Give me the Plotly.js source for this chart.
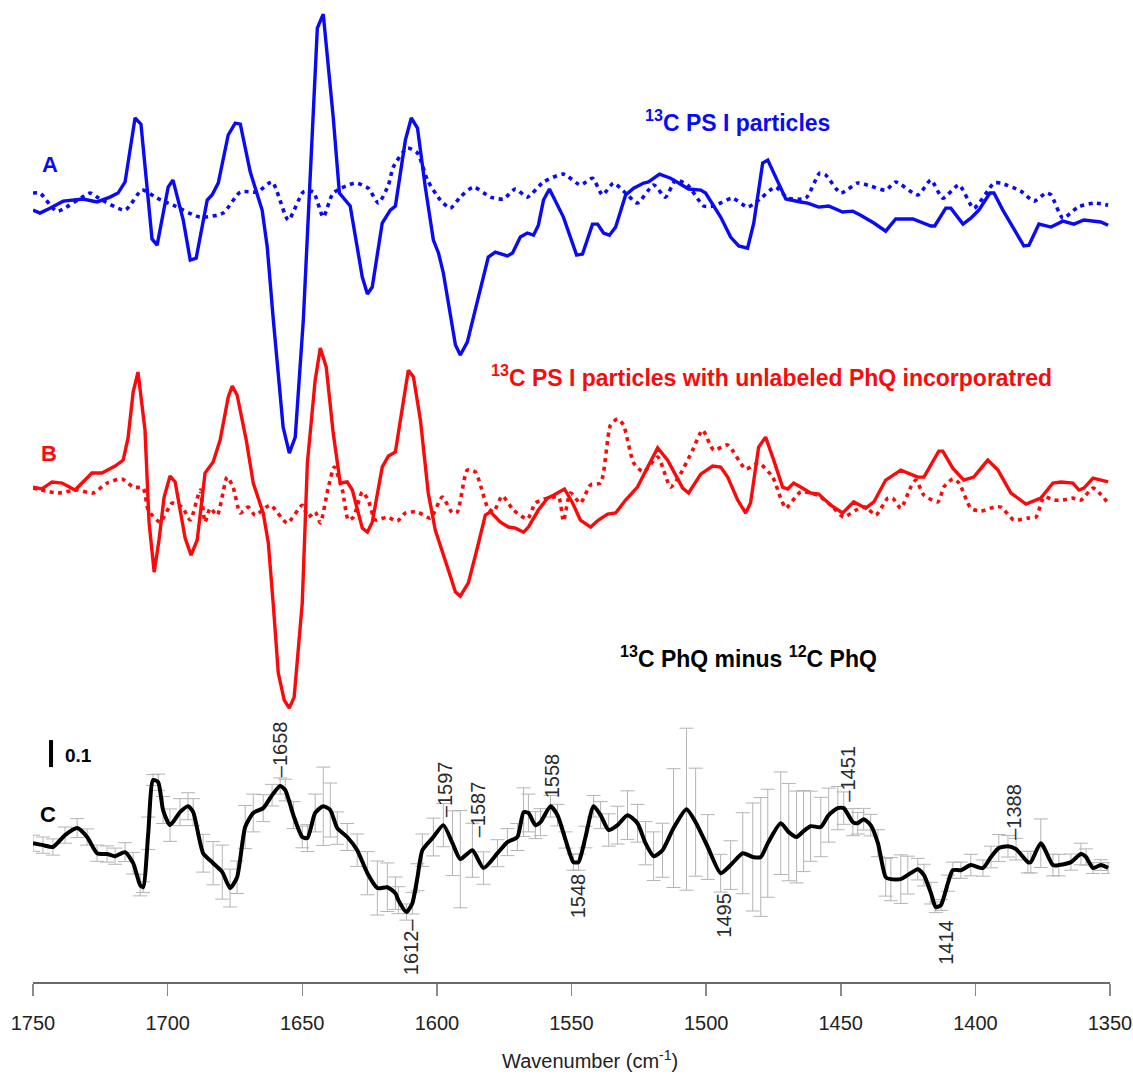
<!DOCTYPE html>
<html><head><meta charset="utf-8">
<script src="https://cdn.plot.ly/plotly-3.0.1.min.js"></script>
<style>body{margin:0;background:#fff}#plot{width:1133px;height:1074px}</style>
</head><body><div id="plot"></div>
<script>
// ---- A: 13C PS I particles (solid) ----
const aWn = [1750.0,1747.4,1743.7,1738.8,1731.4,1726.2,1721.4,1718.4,1715.8,1712.1,
1709.9,1705.8,1703.9,1699.8,1698.0,1694.2,1691.6,1689.4,1685.3,1683.5,
1681.2,1677.5,1674.9,1673.0,1669.3,1664.9,1663.0,1660.8,1657.1,1654.8,
1652.6,1649.6,1644.4,1642.2,1638.5,1636.2,1632.2,1627.7,1625.8,1624.0,
1620.3,1617.3,1615.4,1614.3,1611.7,1609.5,1607.2,1604.3,1601.3,1599.4,
1597.6,1593.1,1591.3,1588.7,1584.9,1580.9,1578.3,1573.8,1571.9,1569.0,
1566.4,1564.1,1562.3,1560.4,1558.2,1553.0,1548.1,1545.9,1542.2,1540.3,
1538.1,1535.9,1533.6,1529.9,1526.9,1523.2,1521.4,1517.3,1513.2,1508.7,
1506.5,1502.0,1500.2,1494.6,1490.9,1487.9,1484.6,1482.3,1479.0,1477.1,
1474.9,1470.4,1464.9,1462.3,1458.2,1454.5,1449.3,1445.5,1442.6,1437.7,
1433.3,1429.6,1423.2,1416.5,1415.1,1411.0,1409.1,1404.6,1401.7,1398.7,
1394.6,1393.1,1389.8,1382.0,1380.1,1376.4,1371.9,1367.5,1363.4,1359.7,
1353.4,1350.7];
const aVal = [-0.037,-0.048,-0.030,-0.004,0.004,-0.007,0.011,0.026,0.067,0.304,
0.281,-0.144,-0.167,0.048,0.074,-0.074,-0.222,-0.215,0,0.019,
0.063,0.241,0.285,0.281,0.104,-0.037,-0.174,-0.437,-0.841,-0.937,
-0.878,-0.444,0.637,0.689,0.307,0.026,-0.022,-0.285,-0.348,-0.322,
-0.085,-0.037,-0.022,0.056,0.222,0.304,0.267,0.048,-0.148,-0.196,
-0.270,-0.537,-0.574,-0.526,-0.370,-0.211,-0.193,-0.207,-0.196,-0.137,
-0.122,-0.130,-0.093,0,0.041,-0.063,-0.204,-0.200,-0.089,-0.089,
-0.122,-0.130,-0.100,0.019,0.044,0.063,0.067,0.096,0.081,0.056,
0.041,0.037,0.026,-0.063,-0.137,-0.170,-0.178,-0.085,0.137,0.148,
0.100,0.004,-0.007,-0.011,-0.026,-0.022,-0.044,-0.041,-0.056,-0.085,
-0.115,-0.070,-0.070,-0.096,-0.096,-0.030,-0.030,-0.089,-0.067,-0.037,
0.026,0.026,-0.037,-0.170,-0.167,-0.089,-0.100,-0.078,-0.089,-0.074,
-0.081,-0.093];

// ---- A: dotted ----
const adWn = [1750.0,1747.4,1741.1,1728.8,1726.2,1715.8,1709.5,1703.9,1698.0,1687.9,
1679.4,1673.0,1666.7,1661.2,1655.2,1649.6,1645.9,1642.2,1638.5,1630.3,
1625.5,1621.7,1618.0,1616.2,1611.0,1607.2,1603.5,1598.7,1595.0,1591.3,
1586.4,1580.1,1575.3,1570.8,1566.4,1560.4,1553.0,1546.7,1542.2,1538.5,
1534.4,1529.9,1525.5,1519.5,1515.1,1511.3,1506.9,1500.9,1497.2,1490.2,
1484.6,1479.7,1474.2,1469.7,1463.0,1457.8,1455.6,1450.0,1443.7,1438.9,
1433.3,1429.6,1421.4,1416.5,1412.1,1406.1,1400.6,1393.1,1390.5,1383.1,
1378.2,1373.8,1371.9,1367.5,1361.9,1355.9,1350.7];
const adVal = [0.026,0.026,-0.041,0.026,0.011,-0.037,0.037,0.007,-0.019,-0.063,
-0.048,0.030,0.030,0.067,-0.074,0.030,0.030,-0.063,0.026,0.063,
0.044,-0.011,0.056,0.122,0.193,0.174,0.074,0,-0.030,0.011,
0.048,0.011,0.004,0.041,0.011,0.067,0.096,0.056,0.081,0.019,
0.063,0.026,-0.011,0.056,0.011,0.074,0.056,-0.022,-0.022,0.007,
-0.026,0.007,0.048,0.007,0.007,0.100,0.093,0.026,0.063,0.052,
0.037,0.067,0.019,0.074,0.007,0.056,-0.030,0.063,0.063,0.033,
-0.004,0.026,0.019,-0.067,-0.026,-0.011,-0.019];

// ---- B: 13C PS I with unlabeled PhQ (solid) ----
const bWn = [1750.0,1746.7,1742.9,1739.2,1734.4,1728.1,1724.4,1719.5,1716.5,1714.7,
1712.8,1711.0,1708.4,1706.9,1705.0,1703.2,1701.3,1699.1,1697.2,1693.5,
1691.3,1689.0,1686.1,1683.1,1680.5,1677.5,1676.0,1674.2,1670.8,1668.2,
1664.5,1662.6,1660.8,1658.9,1656.7,1654.8,1653.0,1650.0,1648.1,1645.2,
1643.3,1641.1,1638.5,1635.9,1633.3,1631.4,1627.7,1625.8,1624.0,1620.3,
1618.0,1615.4,1614.3,1610.6,1608.7,1606.1,1603.2,1600.6,1596.1,1593.1,
1591.3,1588.3,1584.9,1582.0,1580.1,1576.4,1573.4,1570.8,1567.8,1566.0,
1562.3,1558.9,1556.7,1552.6,1549.6,1546.7,1542.9,1540.0,1536.6,1533.6,
1529.9,1525.5,1521.7,1518.0,1514.3,1508.7,1506.5,1502.0,1497.6,1494.6,
1492.0,1488.3,1485.3,1483.5,1480.5,1477.9,1474.9,1471.6,1469.7,1467.5,
1464.9,1461.2,1458.2,1453.7,1449.3,1445.2,1440.7,1437.7,1433.3,1427.7,
1421.4,1419.1,1413.6,1412.1,1408.4,1404.3,1400.6,1395.4,1391.6,1386.8,
1381.2,1375.7,1371.2,1368.2,1363.8,1361.5,1359.7,1356.3,1350.7];
const bVal = [0.011,0.004,0.030,0.026,0,0.063,0.063,0.089,0.111,0.193,
0.363,0.437,0.222,-0.119,-0.304,-0.185,-0.026,0.052,0.030,-0.178,
-0.241,-0.185,0.063,0.104,0.185,0.344,0.385,0.352,0.185,0.026,
-0.085,-0.196,-0.419,-0.678,-0.778,-0.807,-0.767,-0.419,0.100,0.407,
0.526,0.456,0.211,0.026,0.030,0,-0.141,-0.156,-0.119,0.085,
0.126,0.141,0.211,0.444,0.419,0.259,-0.011,-0.148,-0.285,-0.378,
-0.393,-0.344,-0.211,-0.093,-0.081,-0.119,-0.137,-0.141,-0.156,-0.137,
-0.074,-0.030,-0.019,0.004,-0.048,-0.111,-0.137,-0.111,-0.089,-0.085,
-0.037,0.011,0.085,0.156,0.111,0.007,-0.011,0.059,0.089,0.085,
0.048,-0.037,-0.085,-0.048,0.159,0.196,0.111,0.011,0.004,0.026,
0.011,-0.011,-0.015,-0.056,-0.085,-0.044,-0.067,-0.044,0.037,0.074,
0.048,0.048,0.144,0.144,0.081,0.037,0.048,0.111,0.074,-0.011,
-0.052,-0.030,0.026,0.030,0.026,0,0.007,0.044,0.030];

// ---- B: dotted ----
const bdWn = [1750.0,1740.7,1733.6,1727.7,1722.5,1716.9,1712.8,1709.1,1707.2,1702.8,
1698.3,1694.6,1691.6,1687.9,1686.1,1684.2,1681.6,1677.9,1675.7,1673.0,
1670.1,1667.5,1661.9,1655.6,1650.0,1647.8,1645.2,1643.3,1640.3,1638.1,
1635.1,1632.9,1631.0,1627.7,1625.5,1622.9,1618.4,1614.7,1611.7,1607.2,
1602.4,1598.0,1594.2,1592.4,1588.7,1585.7,1581.2,1579.0,1575.7,1571.6,
1566.4,1563.4,1558.9,1554.8,1553.0,1550.4,1546.7,1542.9,1539.2,1535.5,
1532.9,1530.7,1526.9,1523.2,1518.0,1513.2,1510.2,1505.0,1501.3,1497.2,
1492.0,1485.3,1480.5,1475.3,1472.3,1470.4,1464.9,1458.6,1453.7,1448.9,
1444.4,1440.7,1437.0,1432.5,1430.7,1427.7,1424.0,1422.1,1419.1,1413.9,
1411.7,1408.4,1406.1,1401.7,1398.0,1393.1,1390.5,1385.7,1380.5,1377.5,
1374.5,1370.8,1367.5,1363.8,1360.8,1356.3,1350.7];
const bdVal = [0.007,-0.011,0,-0.011,0.026,0.041,0.011,0.007,-0.074,-0.119,
-0.048,-0.063,-0.111,0,-0.119,-0.067,-0.093,0.048,0.011,-0.085,
-0.063,-0.093,-0.056,-0.122,-0.056,-0.100,-0.081,-0.122,0.011,0.085,
0,-0.111,-0.100,-0.007,-0.037,-0.111,-0.100,-0.115,-0.085,-0.081,
-0.104,-0.026,-0.085,-0.081,0.074,0.067,-0.063,-0.081,-0.022,-0.074,
-0.107,-0.048,-0.030,-0.026,-0.115,-0.011,-0.048,0.019,0.026,0.241,
0.263,0.241,0.100,0.067,0.122,0.011,0.048,0.148,0.222,0.148,
0.167,0.078,0.100,0.048,-0.030,-0.067,-0.007,-0.019,-0.056,-0.100,
-0.074,-0.063,-0.093,-0.030,-0.030,-0.067,0.011,0.037,-0.019,-0.044,
0.011,0.041,0.026,-0.067,-0.078,-0.063,-0.063,-0.111,-0.104,-0.100,
-0.026,-0.037,-0.037,-0.030,-0.037,0.007,-0.048];

// ---- C: 13C PhQ minus 12C PhQ (with error bars) ----
const cWn = [1750.0,1746.3,1742.6,1738.1,1733.6,1729.9,1726.2,1722.5,1719.5,1715.8,
1712.8,1710.2,1709.1,1707.2,1705.4,1703.5,1701.7,1699.1,1695.4,1692.4,
1690.5,1686.8,1683.1,1679.7,1676.8,1674.2,1671.2,1668.2,1664.5,1661.2,
1658.2,1656.3,1653.3,1650.0,1648.1,1645.2,1642.2,1639.6,1637.0,1633.3,
1629.6,1625.8,1622.1,1618.4,1615.4,1614.3,1611.3,1609.1,1607.2,1605.4,
1601.3,1597.6,1594.2,1591.3,1586.8,1582.7,1577.5,1573.8,1570.1,1567.8,
1566.0,1563.4,1561.5,1557.8,1555.2,1552.2,1549.3,1547.4,1544.8,1541.8,
1539.2,1536.2,1532.9,1529.2,1525.5,1522.5,1519.5,1516.2,1512.1,1507.3,
1503.9,1499.4,1494.6,1490.9,1486.4,1482.7,1479.7,1477.1,1472.3,1469.3,
1466.4,1463.8,1461.2,1457.4,1454.5,1451.1,1448.9,1445.5,1443.7,1441.5,
1438.9,1436.2,1433.3,1431.4,1427.7,1425.1,1421.4,1419.1,1416.5,1414.7,
1412.8,1410.2,1408.4,1405.4,1401.7,1397.2,1394.2,1391.3,1387.9,1384.9,
1380.5,1379.4,1375.7,1371.2,1369.0,1364.5,1360.8,1358.9,1356.3,1353.4,
1350.7];
const cVal = [0.007,0,-0.007,0.037,0.063,0.030,-0.030,-0.033,-0.041,-0.026,
-0.067,-0.148,-0.156,0.044,0.241,0.233,0.130,0.074,0.122,0.144,
0.122,-0.030,-0.067,-0.100,-0.159,-0.119,0.067,0.119,0.137,0.185,
0.219,0.204,0.111,0.030,0.026,0.119,0.144,0.130,0.063,0.030,
-0.019,-0.104,-0.159,-0.156,-0.178,-0.204,-0.248,-0.215,-0.119,-0.019,
0.030,0.074,0.007,-0.052,-0.019,-0.085,-0.030,0.011,0.030,0.122,
0.119,0.074,0.085,0.144,0.111,0.019,-0.063,-0.063,0.030,0.144,
0.111,0.056,0.074,0.111,0.081,0.007,-0.041,-0.019,0.063,0.133,
0.085,-0.007,-0.104,-0.074,-0.030,-0.044,-0.044,0.007,0.081,0.048,
0.030,0.052,0.070,0.067,0.111,0.137,0.137,0.085,0.081,0.096,
0.074,0.007,-0.119,-0.126,-0.126,-0.111,-0.089,-0.111,-0.178,-0.230,
-0.222,-0.141,-0.093,-0.093,-0.074,-0.085,-0.044,-0.011,-0.004,-0.015,
-0.063,-0.063,0.007,-0.074,-0.074,-0.063,-0.033,-0.044,-0.085,-0.074,
-0.085];
const cErr = [0.03,0.03,0.03,0.03,0.035,0.03,0.03,0.03,0.03,0.035,
0.04,0.04,0.02,0.06,0.02,0.03,0.05,0.06,0.05,0.05,
0.05,0.07,0.08,0.10,0.07,0.06,0.08,0.07,0.05,0.04,
0.03,0.04,0.05,0.04,0.05,0.07,0.145,0.10,0.06,0.05,
0.06,0.08,0.10,0.09,0.06,0.05,0.03,0.04,0.05,0.06,
0.07,0.08,0.12,0.18,0.10,0.06,0.05,0.05,0.05,0.09,
0.07,0.05,0.05,0.04,0.04,0.03,0.03,0.03,0.04,0.04,
0.05,0.06,0.07,0.09,0.07,0.08,0.09,0.10,0.22,0.30,
0.20,0.12,0.07,0.09,0.15,0.20,0.22,0.20,0.19,0.18,
0.17,0.15,0.13,0.11,0.10,0.08,0.06,0.05,0.04,0.04,
0.04,0.05,0.07,0.08,0.09,0.07,0.04,0.04,0.04,0.02,
0.02,0.03,0.03,0.03,0.04,0.03,0.04,0.05,0.04,0.04,
0.04,0.04,0.09,0.04,0.04,0.03,0.04,0.03,0.02,0.02,
0.02];

// labelled band positions (cm-1) for panel C
const peakLabels = ["–1658","1612–","–1597","–1587","1558","1548","1495","–1451","–1388","1414"];
const peakWn     = [1658.2, 1609.5, 1596.9, 1584.6, 1557.1, 1547.8, 1493.5, 1447.1, 1385.7, 1411.0];
const peakY      = [0.356, -0.377, 0.208, 0.134, 0.256, -0.188, -0.259, 0.263, 0.123, -0.359];

const xTicks = [1750,1700,1650,1600,1550,1500,1450,1400,1350];
const SCALE_BAR = 0.1;

// vertical stacking offsets of the three spectra (absorbance units)
const OFF_A = 2.896, OFF_B = 1.822, OFF_C = 0.507;
const sh = (arr, off) => arr.map(v => v + off);

const BLUE = '#0a0af5', RED = '#fa0a0a';
const traces = [
  {x: adWn, y: sh(adVal, OFF_A), mode:'lines', line:{color:BLUE, width:3.6, dash:'4px,4.5px', shape:'spline', smoothing:0.6}},
  {x: aWn, y: sh(aVal, OFF_A), mode:'lines', line:{color:BLUE, width:3.4}},
  {x: bdWn, y: sh(bdVal, OFF_B), mode:'lines', line:{color:RED, width:3.6, dash:'4px,4.5px', shape:'spline', smoothing:0.6}},
  {x: bWn, y: sh(bVal, OFF_B), mode:'lines', line:{color:RED, width:3.4}},
  {x: cWn, y: sh(cVal, OFF_C), mode:'markers', marker:{size:0.1, color:'rgba(0,0,0,0)'},
   error_y:{type:'data', array:cErr, visible:true, color:'#b4b4b4', thickness:1, width:7}},
  {x: cWn, y: sh(cVal, OFF_C), mode:'lines', line:{color:'#000', width:4, shape:'spline', smoothing:0.6}}
];

const F = 'Liberation Sans, Arial, sans-serif';
const ann = [
  {x:1488.5, y:3.189, text:'<b><sup>13</sup>C PS I particles</b>', font:{family:F,size:23,color:BLUE}},
  {x:1475.9, y:2.244, text:'<b><sup>13</sup>C PS I particles with unlabeled PhQ incorporatred</b>', font:{family:F,size:23,color:RED}},
  {x:1484.4, y:1.204, text:'<b><sup>13</sup>C PhQ minus <sup>12</sup>C PhQ</b>', font:{family:F,size:23,color:'#000'}},
  {x:1743.7, y:3.026, text:'<b>A</b>', font:{family:F,size:22,color:BLUE}},
  {x:1744.1, y:1.959, text:'<b>B</b>', font:{family:F,size:22,color:RED}},
  {x:1744.4, y:0.619, text:'<b>C</b>', font:{family:F,size:22,color:'#000'}},
  {x:1733.2, y:0.838, text:'<b>0.1</b>', font:{family:F,size:19,color:'#000'}},
  {xref:'paper', yref:'paper', x:0.517, y:-0.079, yanchor:'middle', text:'Wavenumber (cm<sup>-1</sup>)', font:{family:F,size:20,color:'#222'}}
];
peakLabels.forEach((t,i)=>ann.push({x:peakWn[i], y:peakY[i]+OFF_C, text:t, textangle:-90,
  font:{family:F,size:20,color:'#2a2a2a'}}));
ann.forEach(a=>{ a.showarrow=false; if(!a.xref){a.xref='x';a.yref='y';} });

const layout = {
  width:1133, height:1074, margin:{l:33, r:23, t:0, b:92},
  paper_bgcolor:'#fff', plot_bgcolor:'#fff', showlegend:false,
  xaxis:{range:[1750,1350], tickvals:xTicks, ticktext:xTicks.map(String), ticks:'outside', ticklen:12,
    tickcolor:'#8a8a8a', tickwidth:1.5, showline:true, linecolor:'#6a6a6a', linewidth:1.5,
    showgrid:false, zeroline:false, ticklabelstandoff:10, tickfont:{family:F, size:20, color:'#222'}},
  yaxis:{range:[0,3.637], visible:false, showgrid:false, zeroline:false},
  shapes:[{type:'line', xref:'x', yref:'y', x0:1743.3, x1:1743.3, y0:OFF_C+0.289, y1:OFF_C+0.289+SCALE_BAR,
    line:{color:'#000', width:4}}],
  annotations: ann
};
Plotly.newPlot('plot', traces, layout, {staticPlot:true, displayModeBar:false});
</script></body></html>
